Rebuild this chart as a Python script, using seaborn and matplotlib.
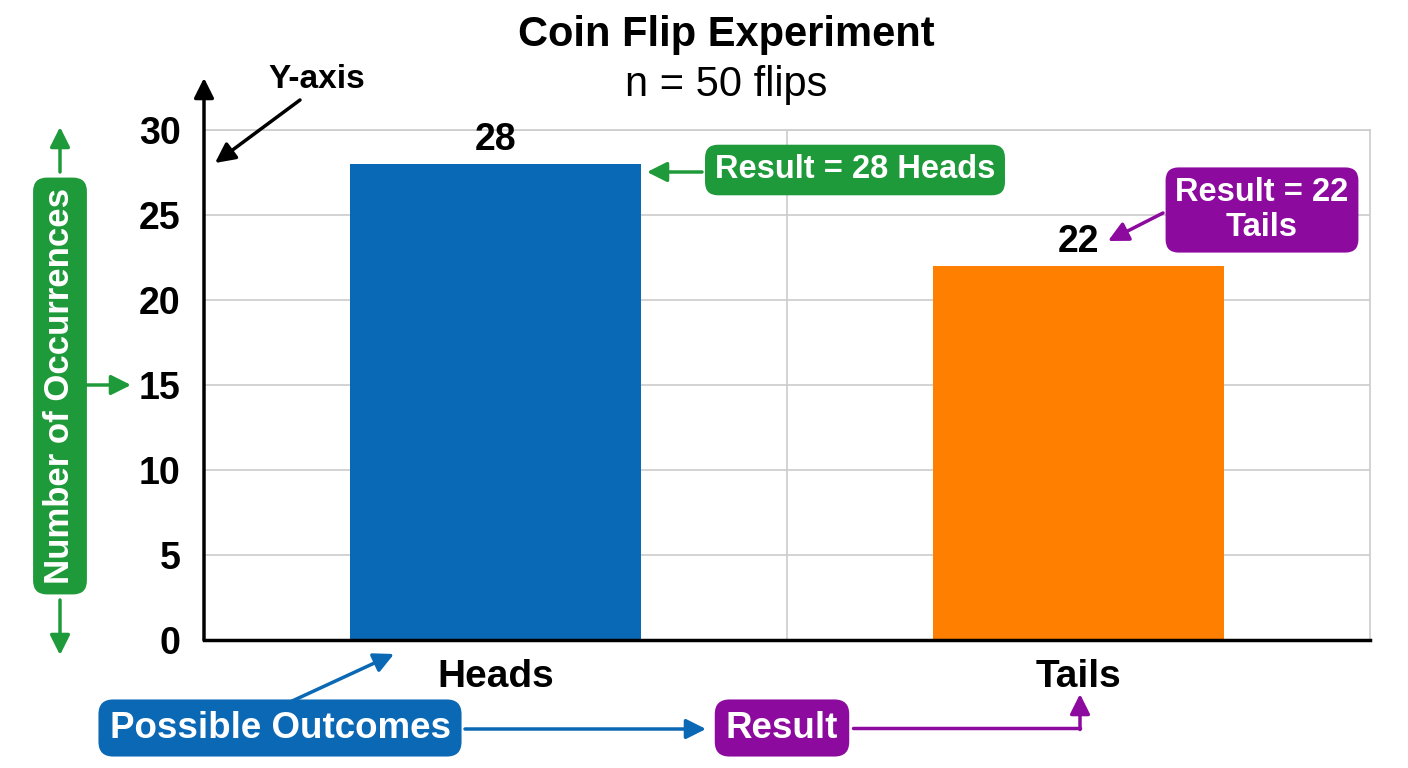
import numpy as np
import matplotlib
matplotlib.use('Agg')
import matplotlib.pyplot as plt
from matplotlib.lines import Line2D
import seaborn as sns

# Data
outcomes = ['Heads', 'Tails']
counts = [28, 22]
y_ticks = [0, 5, 10, 15, 20, 25, 30]

# Colours
bar_colors = ['#0A69B6', '#FF7F00']
green = '#1E9A3A'
purple = '#8C0A9E'
blue = '#0A68B4'

sns.set_theme(style='white')
plt.rcParams['font.family'] = ['Liberation Sans', 'DejaVu Sans']
plt.rcParams['text.color'] = 'black'

W, H = 1408, 768
fig = plt.figure(figsize=(W / 100, H / 100), dpi=100)
ax = fig.add_axes([204 / W, 1 - 640 / H, (1370 - 204) / W, (640 - 130) / H])


def fp(x, y):
    # pixel position (from top-left) -> figure fraction
    return (x / W, 1 - y / H)


sns.barplot(x=outcomes, y=counts, hue=outcomes, palette=bar_colors,
            width=0.5, legend=False, ax=ax, saturation=1, linewidth=0)

ax.set_xlim(-0.5, 1.5)
ax.set_ylim(0, 30)
ax.set_yticks(y_ticks)
ax.set_xlabel('')
ax.set_ylabel('')

# grid
ax.set_xticks([0.5], minor=True)
ax.grid(axis='y', which='major', color='#cccccc', lw=1.2)
ax.grid(axis='x', which='minor', color='#cccccc', lw=1.2)
ax.set_axisbelow(True)

for s in ['top', 'right']:
    ax.spines[s].set_color('#cccccc')
    ax.spines[s].set_linewidth(1.2)
ax.spines['left'].set_visible(False)
ax.spines['bottom'].set_color('black')
ax.spines['bottom'].set_linewidth(2.5)

ax.tick_params(axis='y', which='major', direction='inout', length=22, width=2,
               color='black', labelsize=27, pad=6, labelcolor='black')
ax.tick_params(axis='x', which='both', length=0, labelsize=28, pad=14,
               labelcolor='black')
for lab in ax.get_yticklabels() + ax.get_xticklabels():
    lab.set_fontweight('bold')

# y axis with arrow
ax.annotate('', xy=(0, 1.102), xycoords='axes fraction', xytext=(0, 0),
            textcoords='axes fraction',
            arrowprops=dict(arrowstyle='-|>', lw=2.5, color='black',
                            mutation_scale=30, shrinkA=0, shrinkB=0))

for c in ax.containers:
    ax.bar_label(c, fontsize=27, fontweight='bold', padding=4, color='black')

# title
fig.text(*fp(726, 35), 'Coin Flip Experiment', ha='center', va='center',
         fontsize=30, fontweight='bold', color='black')
fig.text(*fp(726, 85), 'n = 50 flips', ha='center', va='center', fontsize=30,
         color='black')


def arrow(p0, p1, color, lw=2.5, ms=30):
    fig.add_artist(matplotlib.patches.FancyArrowPatch(
        fp(*p0), fp(*p1), transform=fig.transFigure, arrowstyle='-|>',
        color=color, lw=lw, mutation_scale=ms, shrinkA=0, shrinkB=0))


def tag(x, y, text, color, size, rot=0, pad=0.3):
    fig.text(*fp(x, y), text, ha='center', va='center', fontsize=size,
             fontweight='bold', color='white', rotation=rot, linespacing=1.15,
             bbox=dict(boxstyle='round,pad=%s,rounding_size=0.4' % pad, fc=color, ec='none'))


# Y-axis callout
fig.text(*fp(317, 80), 'Y-axis', ha='center', va='center', fontsize=24,
         fontweight='bold', color='black')
arrow((300, 100), (215, 163), 'black')

# y label tag
tag(60, 386, 'Number of Occurrences', green, 25, rot=90, pad=0.3)
arrow((60, 172), (60, 127), green)
arrow((60, 600), (60, 655), green)
arrow((86, 385), (131, 385), green)

# result tags
tag(855, 170, 'Result = 28 Heads', green, 23.5)
arrow((702, 172), (647, 172), green)
tag(1262, 210, 'Result = 22\nTails', purple, 23.5)
arrow((1163, 213), (1108, 241), purple)

# bottom tags
tag(280, 728, 'Possible Outcomes', blue, 26.5)
arrow((290, 702), (394, 654), blue)
arrow((465, 729), (706, 729), blue)
tag(782, 728, 'Result', purple, 26.5)
fig.add_artist(Line2D([853 / W, 1080 / W], [1 - 728 / H, 1 - 728 / H],
                      transform=fig.transFigure, color=purple, lw=2.5))
arrow((1080, 729.5), (1080, 694), purple)

fig.savefig('out.png', dpi=100)
